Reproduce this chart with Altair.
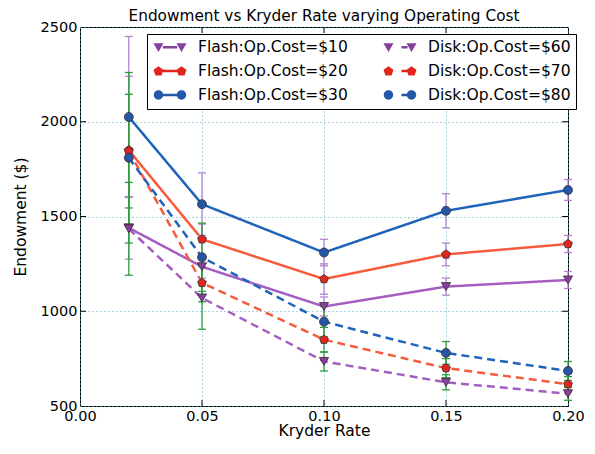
import math
import altair as alt
import pandas as pd

kryder = [0.02, 0.05, 0.10, 0.15, 0.20]

names = ["Flash:Op.Cost=$10", "Flash:Op.Cost=$20", "Flash:Op.Cost=$30",
         "Disk:Op.Cost=$60", "Disk:Op.Cost=$70", "Disk:Op.Cost=$80"]

flash10 = [1440, 1235, 1025, 1130, 1165]
flash20 = [1850, 1380, 1170, 1300, 1355]
flash30 = [2025, 1565, 1310, 1530, 1640]
disk60 = [1435, 1070, 735, 625, 565]
disk70 = [1845, 1150, 850, 700, 615]
disk80 = [1810, 1285, 945, 780, 685]

err_flash10 = [165, 60, 50, 45, 45]
err_flash20 = [390, 80, 80, 60, 45]
err_flash30 = [425, 165, 70, 90, 55]
err_disk60 = [245, 165, 50, 40, 35]
err_disk70 = [300, 100, 65, 50, 40]
err_disk80 = [450, 180, 80, 60, 50]

x_ticks = [0.05, 0.10, 0.15]
y_ticks = [1000, 1500, 2000]

series_vals = [flash10, flash20, flash30, disk60, disk70, disk80]
series_errs = [err_flash10, err_flash20, err_flash30, err_disk60, err_disk70, err_disk80]

rows = []
for name, vals, errs in zip(names, series_vals, series_errs):
    kind = name.split(":")[0]
    for k, v, e in zip(kryder, vals, errs):
        rows.append({"series": name, "kind": kind, "rate": k, "value": v,
                     "lo": v - e, "hi": v + e})
df = pd.DataFrame(rows)

# colours (in `names` order)
line_colors = ["#a45ec2", "#f55b3c", "#1f63bb", "#a45ec2", "#f55b3c", "#1f63bb"]
marker_colors = ["#86409f", "#e0261e", "#2457a8", "#86409f", "#e0261e", "#2457a8"]
ERR_FLASH = "#b184cc"
ERR_DISK = "#2e9e3e"

# a different domain order for the non-legend scales (keeps them apart from the legend)
alt_order = [names[0], names[3], names[1], names[4], names[2], names[5]]
alt_line = [line_colors[names.index(n)] for n in alt_order]
alt_marker = [marker_colors[names.index(n)] for n in alt_order]


# ---- legend symbol paths (unit square scaled by sqrt(size)/2) ----
def tri(cx):
    return f"M{cx-0.28:.3f},-0.22L{cx+0.28:.3f},-0.22L{cx:.3f},0.27Z"


def pent(cx, r=0.29, dy=0.02):
    pts = []
    for i in range(5):
        a = math.radians(-90 + 72 * i)
        pts.append((cx + r * math.cos(a), r * math.sin(a) + dy))
    return "M" + "L".join(f"{px:.3f},{py:.3f}" for px, py in pts) + "Z"


def circ(cx, r=0.26):
    return (f"M{cx-r:.3f},0A{r},{r} 0 1,1 {cx+r:.3f},0"
            f"A{r},{r} 0 1,1 {cx-r:.3f},0Z")


solid = "M-0.40,-0.07L0.40,-0.07L0.40,0.07L-0.40,0.07Z"
dash = "M0.08,-0.07L0.42,-0.07L0.42,0.07L0.08,0.07Z"
C = 0.64
legend_paths = [
    solid + tri(-C) + tri(C),
    solid + pent(-C) + pent(C),
    solid + circ(-C) + circ(C),
    dash + tri(-C) + tri(C),
    dash + pent(-C) + pent(C),
    dash + circ(-C) + circ(C),
]

FONT = "DejaVu Sans"
XT = "Kryder Rate"
YT = "Endowment ($)"
XS = alt.Scale(domain=[0, 0.2], nice=False, zero=False)
YS = alt.Scale(domain=[500, 2500], nice=False, zero=False)


def X(field="rate"):
    return alt.X(f"{field}:Q", title=XT, scale=XS,
                 axis=alt.Axis(values=[0, 0.05, 0.10, 0.15, 0.20], format=".2f"))


def Y(field):
    return alt.Y(f"{field}:Q", title=YT, scale=YS,
                 axis=alt.Axis(values=[500, 1000, 1500, 2000, 2500], format="d"))


base = alt.Chart(df)

lines = base.mark_line(strokeWidth=2.5).encode(
    x=X(), y=Y("value"),
    stroke=alt.Stroke("series:N", scale=alt.Scale(domain=alt_order, range=alt_line),
                      legend=None),
    strokeDash=alt.StrokeDash("kind:N", scale=alt.Scale(domain=["Flash", "Disk"],
                                                         range=[[1, 0], [8, 5]]),
                              legend=None),
)


def errbars(kind, colour):
    sub = base.transform_filter(alt.datum.kind == kind)
    bar = sub.mark_rule(strokeWidth=1.3, color=colour).encode(
        x=X(), y=Y("lo"), y2="hi:Q")
    hi = sub.mark_rule(strokeWidth=1.3, color=colour, xOffset=-4, x2Offset=4).encode(
        x=X(), x2="rate:Q", y=Y("hi"))
    lo = sub.mark_rule(strokeWidth=1.3, color=colour, xOffset=-4, x2Offset=4).encode(
        x=X(), x2="rate:Q", y=Y("lo"))
    return [bar, hi, lo]


def markers(members, shape, size):
    return base.transform_filter(
        alt.FieldOneOfPredicate(field="series", oneOf=members)
    ).mark_point(filled=True, shape=shape, size=size, stroke="#3a2a2a",
                 strokeWidth=0.8, opacity=1).encode(
        x=X(), y=Y("value"),
        color=alt.Color("series:N", scale=alt.Scale(domain=alt_order, range=alt_marker),
                        legend=None),
    )


m_tri = markers([names[0], names[3]], "triangle-down", 85)
m_pent = markers([names[1], names[4]], pent(0, 1.0, 0.0), 85)
m_circ = markers([names[2], names[5]], "circle", 80)

leg = alt.Legend(
    title=None, orient="none", legendX=67, legendY=7, direction="vertical",
    columns=2, columnPadding=34, rowPadding=7, clipHeight=16,
    symbolSize=1296, symbolOpacity=1, symbolStrokeWidth=0,
    labelFont=FONT, labelFontSize=15.5, labelColor="black", labelOffset=10,
    padding=5, strokeColor="black", fillColor="white", cornerRadius=0,
    labelLimit=400,
)

legend_layer = base.mark_point(filled=True, opacity=0).encode(
    x=X(), y=Y("value"),
    fill=alt.Fill("series:N", scale=alt.Scale(domain=names, range=marker_colors),
                  legend=leg),
    shape=alt.Shape("series:N", scale=alt.Scale(domain=names, range=legend_paths),
                    legend=leg),
)

# inward tick marks on all four sides
xt = alt.Chart(pd.DataFrame({"t": x_ticks}))
yt = alt.Chart(pd.DataFrame({"t": y_ticks}))
TL = 6
tick_layers = [
    xt.mark_rule(color="black", strokeWidth=1, y2Offset=-TL).encode(
        x=X("t"), y=alt.datum(500, scale=YS, title=YT), y2=alt.datum(500)),
    xt.mark_rule(color="black", strokeWidth=1, y2Offset=TL).encode(
        x=X("t"), y=alt.datum(2500, scale=YS, title=YT), y2=alt.datum(2500)),
    yt.mark_rule(color="black", strokeWidth=1, x2Offset=TL).encode(
        y=Y("t"), x=alt.datum(0, scale=XS, title=XT), x2=alt.datum(0)),
    yt.mark_rule(color="black", strokeWidth=1, x2Offset=-TL).encode(
        y=Y("t"), x=alt.datum(0.2, scale=XS, title=XT), x2=alt.datum(0.2)),
]

layers = [lines] + errbars("Flash", ERR_FLASH) + errbars("Disk", ERR_DISK) + \
         [m_tri, m_pent, m_circ, legend_layer] + tick_layers

chart = alt.layer(*layers).properties(
    width=488, height=379,
    title=alt.TitleParams("Endowment vs Kryder Rate varying Operating Cost",
                          font=FONT, fontSize=15.3, fontWeight="normal",
                          color="black", anchor="middle", offset=-5, frame="group"),
    autosize=alt.AutoSizeParams(type="none"),
    padding={"left": 72, "top": 19, "right": 17, "bottom": 38},
).configure_view(
    stroke="black", strokeWidth=1
).configure_axis(
    labelFont=FONT, labelFontSize=14.5, labelColor="black",
    titleFont=FONT, titleFontSize=15.5, titleFontWeight="normal", titleColor="black",
    grid=True, gridColor="#4aa6c8", gridDash=[1, 3], gridWidth=1, gridOpacity=1,
    domain=False, ticks=False, labelFlush=False, labelOverlap=False, labelPadding=3,
).configure_axisY(
    titlePadding=12
).configure_axisX(
    titlePadding=1
)

chart.save("out.html", embed_options={"renderer": "svg", "actions": False})
